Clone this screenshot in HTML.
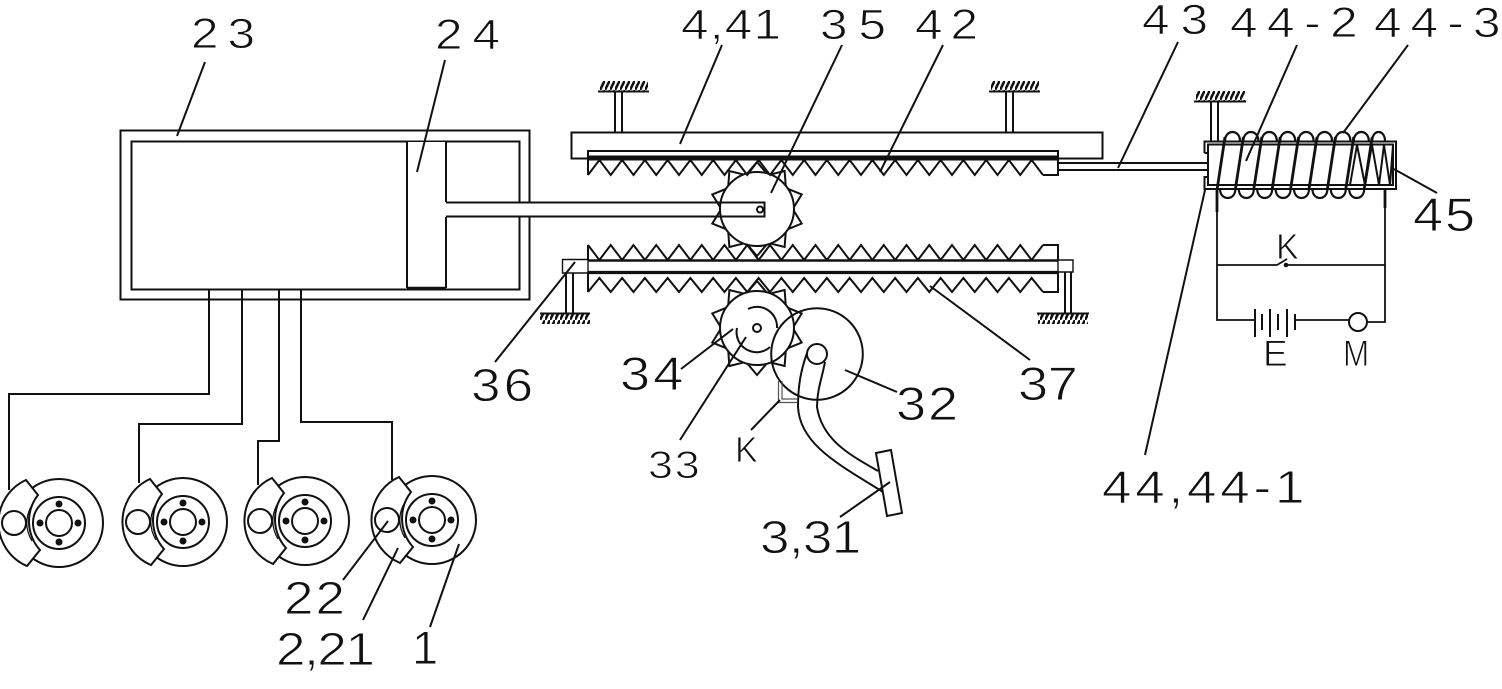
<!DOCTYPE html>
<html><head><meta charset="utf-8"><style>
html,body{margin:0;padding:0;background:#fff}
svg{display:block}
text{font-family:"Liberation Sans",sans-serif;fill:#111;stroke:#fff;stroke-width:0.9px}
</style></head><body>
<svg width="1502" height="689" viewBox="0 0 1502 689" xmlns="http://www.w3.org/2000/svg">
<defs>
<pattern id="h" width="5" height="10" patternUnits="userSpaceOnUse"><path d="M-1,12 L6,-2" stroke="#111" stroke-width="2.6"/></pattern>
<g id="disc">
<circle r="44" fill="#fff"/>
<circle r="26"/><circle r="13"/>
<circle cx="0" cy="-19" r="2.5" fill="#111"/><circle cx="0" cy="19" r="2.5" fill="#111"/><circle cx="-19" cy="0" r="2.5" fill="#111"/><circle cx="19" cy="0" r="2.5" fill="#111"/>
<path d="M-33,-43 L-21,-28 A43,43 0 0 0 -19,27 L-32,43 A47,47 0 0 1 -33,-43 Z" fill="#fff"/>
<path d="M-27,-18 A34,34 0 0 0 -27,18" stroke-width="1.2"/>
<circle cx="-45" cy="0" r="12"/>
</g>
<path id="t" d="M0,-47 L-11,-34 L11,-34 Z" fill="#fff"/>
<g id="gear">
<use href="#t"/><use href="#t" transform="rotate(36)"/><use href="#t" transform="rotate(72)"/><use href="#t" transform="rotate(108)"/><use href="#t" transform="rotate(144)"/><use href="#t" transform="rotate(180)"/><use href="#t" transform="rotate(216)"/><use href="#t" transform="rotate(252)"/><use href="#t" transform="rotate(288)"/><use href="#t" transform="rotate(324)"/>
<circle r="37" fill="#fff"/>
</g>
</defs>

<!-- labels -->
<text transform="translate(191,48) scale(1.15,1)" font-size="43" textLength="55.7">23</text>
<text transform="translate(435,49) scale(1.15,1)" font-size="43" textLength="56.5">24</text>
<text transform="translate(681,39) scale(1.15,1)" font-size="43" textLength="87">4,41</text>
<text transform="translate(820,39) scale(1.15,1)" font-size="43" textLength="57.4">35</text>
<text transform="translate(915,39) scale(1.15,1)" font-size="43" textLength="54.8">42</text>
<text transform="translate(1142,34) scale(1.15,1)" font-size="43" textLength="57.4">43</text>
<text transform="translate(1230,37) scale(1.15,1)" font-size="43" textLength="111">44-2</text>
<text transform="translate(1374,37) scale(1.15,1)" font-size="43" textLength="110">44-3</text>
<text transform="translate(1413,231) scale(1.15,1)" font-size="47" textLength="54">45</text>
<text transform="translate(1276,259) scale(0.95,1)" font-size="36">K</text>
<text transform="translate(1263,366) scale(1,1)" font-size="37">E</text>
<text transform="translate(1343,366) scale(0.85,1)" font-size="37">M</text>
<text transform="translate(1018,400) scale(1.15,1)" font-size="47" textLength="52">37</text>
<text transform="translate(896,420) scale(1.15,1)" font-size="47" textLength="54">32</text>
<text transform="translate(620,390) scale(1.15,1)" font-size="47" textLength="55">34</text>
<text transform="translate(471,401) scale(1.15,1)" font-size="46" textLength="54">36</text>
<text transform="translate(648,478) scale(1.15,1)" font-size="39" textLength="45">33</text>
<text transform="translate(735,462) scale(0.95,1)" font-size="36">K</text>
<text transform="translate(760,553) scale(1.15,1)" font-size="46" textLength="88">3,31</text>
<text transform="translate(1102,503) scale(1.15,1)" font-size="46" textLength="176">44,44-1</text>
<text transform="translate(284,614) scale(1.15,1)" font-size="46" textLength="53">22</text>
<text transform="translate(276,665) scale(1.15,1)" font-size="46" textLength="86">2,21</text>
<text transform="translate(412,664)" font-size="47">1</text>

<g fill="none" stroke="#111" stroke-width="2">
<!-- cylinder -->
<rect x="120.500" y="130.500" width="409" height="169"/>
<rect x="131.500" y="141.500" width="388" height="148"/>
<path d="M407,142V288H446V217H765V202H446V142Z" fill="#fff" stroke="none"/>
<path d="M407,142V288M446,142V202M446,217V288"/>
<path d="M407,288H446" stroke-width="2.600"/>

<!-- pipes -->
<path d="M209,290V394H9V490M242,290V424H139V483M279,290V441H258V485M301,290V422H392V480"/>

<!-- discs -->
<use href="#disc" transform="translate(59,523)"/>
<use href="#disc" transform="translate(183,522)"/>
<use href="#disc" transform="translate(305,521)"/>
<use href="#disc" transform="translate(432,520)"/>

<!-- gears -->
<use href="#gear" transform="translate(757,209)"/>
<use href="#gear" transform="translate(757,328)"/>

<!-- rod over gear -->
<path d="M446,202.500H764.500V216.500H446"/>
<circle cx="760" cy="209.500" r="3"/>
<circle cx="757" cy="328" r="4"/>
<path d="M748,309 A20,20 0 0 1 777,328 M737,328 A20,20 0 0 0 770,347"/>

<!-- upper rack -->
<rect x="571.500" y="132.500" width="531" height="26"/>
<path d="M588,175V151H1058V175H1043"/>
<path d="M588,156.500H1058"/>
<path d="M588,159.500H1058" stroke-width="2"/>
<path d="M588,175l11.375-15 11.375,15 11.375-15 11.375,15 11.375-15 11.375,15 11.375-15 11.375,15 11.375-15 11.375,15 11.375-15 11.375,15 11.375-15 11.375,15 11.375-15 11.375,15 11.375-15 11.375,15 11.375-15 11.375,15 11.375-15 11.375,15 11.375-15 11.375,15 11.375-15 11.375,15 11.375-15 11.375,15 11.375-15 11.375,15 11.375-15 11.375,15 11.375-15 11.375,15 11.375-15 11.375,15 11.375-15 11.375,15 11.375-15 11.375,15"/>
<path d="M1058,163H1207M1058,170H1207"/>

<!-- lower rack -->
<path d="M562.500,259.500H588V273H562.500ZM1058,260H1073V272H1058Z" stroke-width="1.400"/>
<path d="M588,260V245M1058,260V245H1043M588,272V292M1058,272V292H1043"/>
<path d="M588,260.500H1058" stroke-width="2.600"/>
<path d="M588,272.500H1058" stroke-width="3.200"/>
<path d="M588,245l11.375,15 11.375-15 11.375,15 11.375-15 11.375,15 11.375-15 11.375,15 11.375-15 11.375,15 11.375-15 11.375,15 11.375-15 11.375,15 11.375-15 11.375,15 11.375-15 11.375,15 11.375-15 11.375,15 11.375-15 11.375,15 11.375-15 11.375,15 11.375-15 11.375,15 11.375-15 11.375,15 11.375-15 11.375,15 11.375-15 11.375,15 11.375-15 11.375,15 11.375-15 11.375,15 11.375-15 11.375,15 11.375-15 11.375,15 11.375-15"/>
<path d="M588,292l11.375-14 11.375,14 11.375-14 11.375,14 11.375-14 11.375,14 11.375-14 11.375,14 11.375-14 11.375,14 11.375-14 11.375,14 11.375-14 11.375,14 11.375-14 11.375,14 11.375-14 11.375,14 11.375-14 11.375,14 11.375-14 11.375,14 11.375-14 11.375,14 11.375-14 11.375,14 11.375-14 11.375,14 11.375-14 11.375,14 11.375-14 11.375,14 11.375-14 11.375,14 11.375-14 11.375,14 11.375-14 11.375,14 11.375-14 11.375,14"/>

<!-- supports -->
<path d="M615,91V132M622,91V132M1006,91V132M1013,91V132M1211,101V141M1218,101V141M566,273V313M573,273V313M1065,272V313M1071,272V313"/>
<path d="M598,91.500H649M989,91.500H1040M1194,101.500H1246M540,313.500H590M1037,313.500H1089" stroke-width="2"/>
</g>
<g stroke="none" fill="url(#h)">
<rect x="600" y="81" width="48" height="10"/>
<rect x="991" y="81" width="48" height="10"/>
<rect x="1196" y="91" width="49" height="10"/>
<rect x="540" y="314" width="50" height="10"/>
<rect x="1038" y="314" width="50" height="10"/>
</g>

<g fill="none" stroke="#111" stroke-width="2">
<!-- flywheel 32 and pedal -->
<circle cx="817" cy="354" r="45.800"/>
<circle cx="817" cy="354" r="10"/>
<path d="M807,353 C801,370 798,385 798,407 C800,445 840,465 883,492"/>
<path d="M825,362 C822,378 817,390 817,407 C822,440 850,455 878,471"/>
<path d="M876,453 L891,450 L902,513 L887,516 Z" fill="#fff"/>
<path d="M778.500,381V402.500H797M782,381V399H797" stroke="#555" stroke-width="1.200"/>

<!-- electromagnet housing -->
<path d="M1204.500,153V141.500H1396V189H1204.500V177H1208"/>
<path d="M1204.500,153H1208"/>
<rect x="1208" y="144.500" width="185" height="40.500"/>
<path d="M1350,185L1357,145L1365,185L1372,145L1379,185L1384,145L1390,185L1393,145"/>

<!-- coil -->
<g stroke-width="2.200">
<path d="M1225,141C1225,129 1240,129 1240,141M1243.400,141C1243.400,129 1258.400,129 1258.400,141M1261.800,141C1261.800,129 1276.800,129 1276.800,141M1280.200,141C1280.200,129 1295.200,129 1295.200,141M1298.600,141C1298.600,129 1313.600,129 1313.600,141M1317,141C1317,129 1332,129 1332,141M1335.400,141C1335.400,129 1350.400,129 1350.400,141M1353.800,141C1353.800,129 1368.800,129 1368.800,141M1372.200,141C1372.200,129 1385,129 1385,141"/>
<path d="M1220,189C1220,201 1235.400,201 1235.400,189M1238.800,189C1238.800,201 1253.800,201 1253.800,189M1257.200,189C1257.200,201 1272.200,201 1272.200,189M1275.600,189C1275.600,201 1290.600,201 1290.600,189M1294,189C1294,201 1309,201 1309,189M1312.400,189C1312.400,201 1327.400,201 1327.400,189M1330.800,189C1330.800,201 1345.800,201 1345.800,189M1349.200,189C1349.200,201 1364.200,201 1364.200,189"/>
</g>
<g stroke-width="2.800">
<path d="M1217,212V190L1225,137"/>
<path d="M1235.400,189L1243.400,137M1253.800,189L1261.800,137M1272.200,189L1280.200,137M1290.600,189L1298.600,137M1309,189L1317,137M1327.400,189L1335.400,137M1345.800,189L1353.800,137M1364.200,189L1372.200,137"/>
<path d="M1385,190V208"/>
</g>

<!-- circuit -->
<path d="M1217,212V320H1255M1385,208V322H1367M1295,320H1349M1217,265H1277L1287,259M1286,265H1385" stroke-width="1.800"/>
<circle cx="1286" cy="265" r="1.300" fill="#111"/>
<circle cx="1358" cy="322" r="9"/>
<path d="M1255,309V337M1262,314V330M1270,309V337M1278,314V330M1287,309V337M1295,314V330"/>

<!-- leaders -->
<g stroke-width="2">
<path d="M177,136L205,62"/>
<path d="M417,172L445,60"/>
<path d="M680,144L722,45"/>
<path d="M771,193L842,45"/>
<path d="M880,172L943,45"/>
<path d="M1118,168L1178,42"/>
<path d="M1246,161L1297,45"/>
<path d="M1343,133L1408,45"/>
<path d="M1392,168L1437,193"/>
<path d="M1205,190L1145,455"/>
<path d="M495,362L575,262"/>
<path d="M930,286L1030,360"/>
<path d="M845,370L897,392"/>
<path d="M733,329L681,369"/>
<path d="M746,337L680,440"/>
<path d="M780,400L751,430"/>
<path d="M890,482L840,517"/>
<path d="M388,521L343,580"/>
<path d="M398,548L363,620"/>
<path d="M459,544L430,627"/>
</g>
</g>
</svg>
</body></html>
